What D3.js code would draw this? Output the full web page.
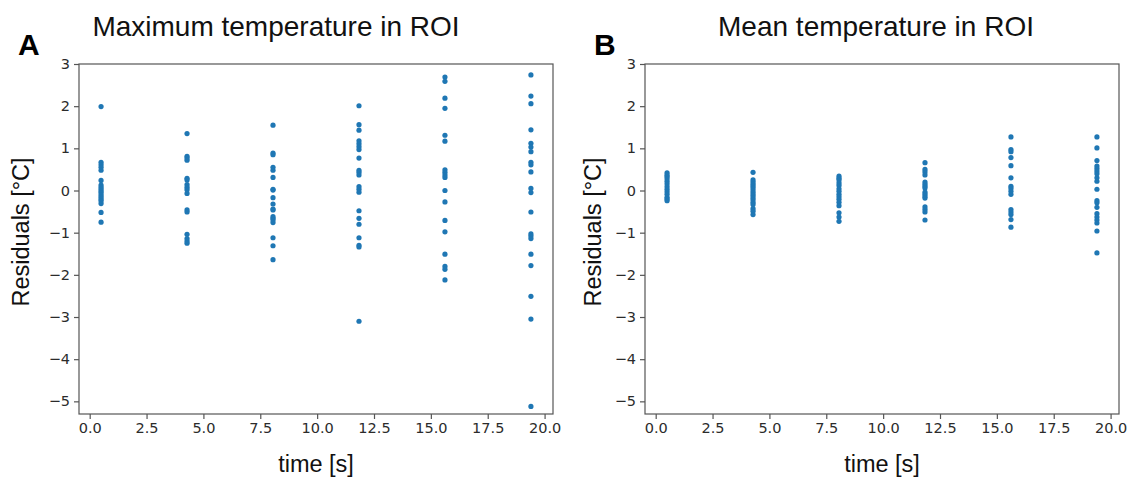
<!DOCTYPE html>
<html>
<head>
<meta charset="utf-8">
<script src="https://cdn.jsdelivr.net/npm/d3@7"></script>
<style>
  body { margin: 0; background: #fff; }
  .title { font-family: "Liberation Sans", Arial, sans-serif; font-size: 28px; fill: #111; }
  .panelLetter { font-family: "Liberation Sans", Arial, sans-serif; font-size: 30px; font-weight: bold; fill: #000; }
  .axisLabel { font-family: "Liberation Sans", Arial, sans-serif; font-size: 23.5px; fill: #111; }
  .axis text { font-family: "DejaVu Sans", sans-serif; font-size: 14.5px; fill: #2b2b2b; }
  .axis path, .axis line { stroke: #555; stroke-width: 1.2; }
</style>
</head>
<body>
<div class="chart"></div>
<script>
// time of each measurement group [s]
const times = [0.5, 4.28, 8.06, 11.84, 15.62, 19.4];

// residuals of the maximum temperature, one list per time
const maxResiduals = [
  [1.99, 0.67, 0.61, 0.55, 0.48, 0.24, 0.13, 0.08, 0.03, -0.02, -0.06, -0.11, -0.16, -0.21, -0.25, -0.31, -0.52, -0.75],
  [1.35, 0.81, 0.77, 0.72, 0.29, 0.25, 0.14, 0.08, 0.02, -0.07, -0.46, -0.51, -1.04, -1.14, -1.2, -1.25],
  [1.55, 0.89, 0.85, 0.55, 0.48, 0.31, 0.01, 0.03, -0.17, -0.32, -0.44, -0.46, -0.62, -0.66, -0.7, -0.76, -1.12, -1.31, -1.64],
  [2.01, 1.56, 1.43, 1.18, 1.11, 1.04, 0.97, 0.77, 0.48, 0.43, 0.37, 0.09, 0.03, -0.04, -0.48, -0.66, -0.8, -1.12, -1.3, -1.34, -3.1],
  [2.69, 2.59, 2.19, 1.95, 1.31, 1.17, 0.49, 0.43, 0.37, 0.31, 0.0, -0.27, -0.71, -0.98, -1.51, -1.8, -1.87, -2.12],
  [2.74, 2.24, 2.06, 1.44, 1.12, 1.03, 0.92, 0.67, 0.61, 0.44, 0.05, -0.05, -0.51, -1.03, -1.08, -1.14, -1.51, -1.78, -2.51, -3.05, -5.12]
];

// residuals of the mean temperature, one list per time
const meanResiduals = [
  [0.42, 0.37, 0.33, 0.28, 0.22, 0.16, 0.09, 0.03, -0.03, -0.09, -0.16, -0.2, -0.24],
  [0.43, 0.25, 0.2, 0.15, 0.1, 0.05, -0.01, -0.06, -0.11, -0.17, -0.22, -0.28, -0.33, -0.43, -0.49, -0.57],
  [0.34, 0.29, 0.25, 0.18, 0.12, 0.04, -0.02, -0.09, -0.15, -0.21, -0.28, -0.36, -0.53, -0.63, -0.73],
  [0.66, 0.5, 0.44, 0.37, 0.2, 0.15, 0.1, 0.06, -0.04, -0.09, -0.14, -0.18, -0.39, -0.45, -0.51, -0.7],
  [1.27, 0.97, 0.92, 0.78, 0.59, 0.3, 0.1, 0.05, -0.02, -0.09, -0.45, -0.51, -0.57, -0.69, -0.87],
  [1.27, 1.01, 0.71, 0.58, 0.52, 0.46, 0.4, 0.3, 0.22, 0.03, -0.24, -0.29, -0.4, -0.55, -0.63, -0.7, -0.77, -0.96, -1.48]
];

const xTicks = [0, 2.5, 5, 7.5, 10, 12.5, 15, 17.5, 20];
const yTicks = [-5, -4, -3, -2, -1, 0, 1, 2, 3];

const panels = [
  { letter: 'A', title: 'Maximum temperature in ROI', values: maxResiduals,
    left: 79, right: 553, titleX: 276, letterX: 18, yLabelX: 29 },
  { letter: 'B', title: 'Mean temperature in ROI', values: meanResiduals,
    left: 645, right: 1119, titleX: 876, letterX: 594, yLabelX: 601 }
];

const width = 1131, height = 479;
const plotTop = 64, plotBottom = 414;

let svg = d3.select('.chart').append('svg')
  .attr('width', width)
  .attr('height', height);

panels.forEach(p => {
  let x = d3.scaleLinear()
    .domain([-0.47, 20.37])
    .range([p.left, p.right]);

  let y = d3.scaleLinear()
    .domain([-5.3, 3.0])
    .range([plotBottom, plotTop]);

  let points = [];
  p.values.forEach((col, i) => col.forEach(v => points.push({ t: times[i], r: v })));

  let g = svg.append('g');

  // frame
  g.append('rect')
    .attr('x', p.left)
    .attr('y', plotTop)
    .attr('width', p.right - p.left)
    .attr('height', plotBottom - plotTop)
    .attr('fill', 'none')
    .attr('stroke', '#555')
    .attr('stroke-width', 1.2);

  g.append('g')
    .attr('class', 'axis')
    .attr('transform', `translate(0, ${plotBottom})`)
    .call(d3.axisBottom(x).tickValues(xTicks).tickSize(5).tickPadding(4).tickFormat(d3.format('.1f')))
    .call(a => a.select('.domain').remove());

  g.append('g')
    .attr('class', 'axis')
    .attr('transform', `translate(${p.left}, 0)`)
    .call(d3.axisLeft(y).tickValues(yTicks).tickSize(5).tickPadding(4).tickFormat(d3.format('d')))
    .call(a => a.select('.domain').remove());

  g.selectAll('circle.dot')
    .data(points)
    .enter()
    .append('circle')
    .attr('class', 'dot')
    .attr('cx', d => x(d.t))
    .attr('cy', d => y(d.r))
    .attr('r', 2.6)
    .attr('fill', '#1f77b4');

  svg.append('text')
    .attr('class', 'title')
    .attr('x', p.titleX)
    .attr('y', 36)
    .style('text-anchor', 'middle')
    .text(p.title);

  svg.append('text')
    .attr('class', 'panelLetter')
    .attr('x', p.letterX)
    .attr('y', 55)
    .text(p.letter);

  svg.append('text')
    .attr('class', 'axisLabel')
    .attr('transform', `translate(${p.yLabelX}, 232) rotate(-90)`)
    .style('text-anchor', 'middle')
    .text('Residuals [°C]');

  svg.append('text')
    .attr('class', 'axisLabel')
    .attr('x', (p.left + p.right) / 2)
    .attr('y', 472)
    .style('text-anchor', 'middle')
    .text('time [s]');
});
</script>
</body>
</html>
